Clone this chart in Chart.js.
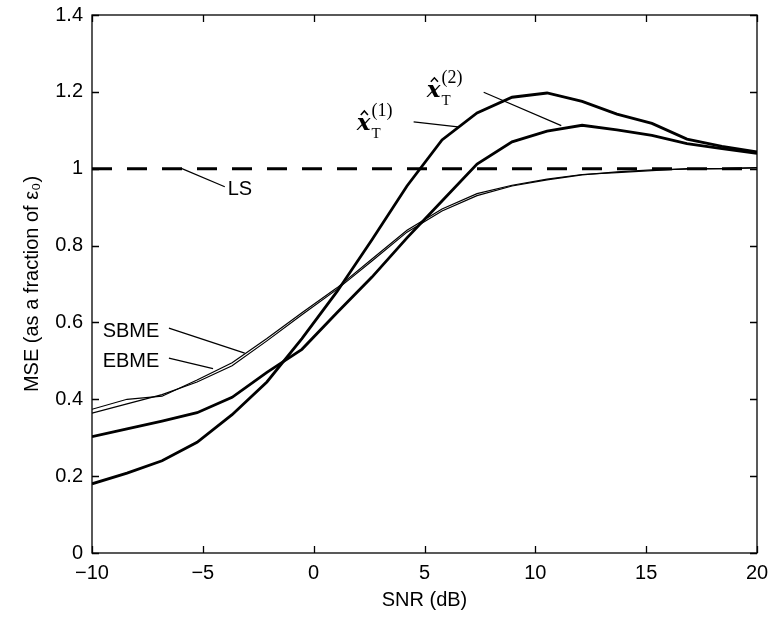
<!DOCTYPE html>
<html>
<head>
<meta charset="utf-8">
<script src="https://cdn.jsdelivr.net/npm/chart.js@4.4.1/dist/chart.umd.min.js"></script>
<style>
  html, body { margin: 0; padding: 0; background: #fff; }
  canvas { display: block; }
</style>
</head>
<body>
<canvas id="chart" width="771" height="618"></canvas>
<script>
// SNR sample points (dB)
const snr = [-10, -8.42, -6.84, -5.26, -3.68, -2.11, -0.53, 1.05, 2.63, 4.21,
  5.79, 7.37, 8.95, 10.53, 12.11, 13.68, 15.26, 16.84, 18.42, 20];

// MSE as a fraction of eps0
const xT1 = [0.18, 0.208, 0.24, 0.288, 0.36, 0.445, 0.558, 0.68, 0.815, 0.955,
  1.075, 1.145, 1.186, 1.197, 1.175, 1.142, 1.118, 1.077, 1.058, 1.044];
const xT2 = [0.303, 0.323, 0.343, 0.365, 0.405, 0.47, 0.53, 0.625, 0.718, 0.82,
  0.916, 1.012, 1.07, 1.098, 1.113, 1.101, 1.087, 1.065, 1.052, 1.04];
const sbme = [0.374, 0.4, 0.408, 0.45, 0.495, 0.558, 0.625, 0.69, 0.765, 0.84,
  0.895, 0.935, 0.957, 0.973, 0.985, 0.99, 0.995, 1.0, 1.0, 1.003];
const ebme = [0.364, 0.388, 0.412, 0.445, 0.487, 0.552, 0.62, 0.686, 0.76, 0.835,
  0.89, 0.93, 0.955, 0.971, 0.984, 0.992, 0.997, 0.999, 1.0, 1.002];
const lsX = [-10, 20];
const lsY = [1, 1];

const xTicks = [-10, -5, 0, 5, 10, 15, 20];
const yTicks = [0, 0.2, 0.4, 0.6, 0.8, 1, 1.2, 1.4];

const pts = (xs, ys) => xs.map((x, i) => ({ x, y: ys[i] }));

const line = (data, width, dash) => ({
  data,
  borderColor: '#000',
  borderWidth: width,
  borderDash: dash || [],
  pointRadius: 0,
  tension: 0,
  fill: false,
});

// inward ticks on all four sides + box
const frame = {
  id: 'frame',
  afterDatasetsDraw(chart) {
    const { ctx, chartArea: a, scales } = chart;
    const len = 7;
    ctx.save();
    ctx.strokeStyle = '#000';
    ctx.lineWidth = 1.3;
    ctx.strokeRect(a.left, a.top, a.right - a.left, a.bottom - a.top);
    ctx.beginPath();
    scales.x.ticks.forEach((t) => {
      const px = Math.round(scales.x.getPixelForValue(t.value)) + 0.5;
      ctx.moveTo(px, a.bottom); ctx.lineTo(px, a.bottom - len);
      ctx.moveTo(px, a.top); ctx.lineTo(px, a.top + len);
    });
    scales.y.ticks.forEach((t) => {
      const py = Math.round(scales.y.getPixelForValue(t.value)) + 0.5;
      ctx.moveTo(a.left, py); ctx.lineTo(a.left + len, py);
      ctx.moveTo(a.right, py); ctx.lineTo(a.right - len, py);
    });
    ctx.stroke();
    ctx.restore();
  },
};

// text labels with leader lines, placed in data units
const sansLabels = [
  { text: 'SBME', x: -9.52, y: 0.563, from: [-6.53, 0.585], to: [-3.11, 0.52] },
  { text: 'EBME', x: -9.52, y: 0.485, from: [-6.53, 0.507], to: [-4.54, 0.48] },
  { text: 'LS', x: -3.88, y: 0.932, from: [-4.01, 0.953], to: [-5.97, 1.001] },
];
const mathLabels = [
  { sup: '(1)', x: 1.94, y: 1.101, from: [4.51, 1.122], to: [6.51, 1.109] },
  { sup: '(2)', x: 5.1, y: 1.187, from: [7.67, 1.199], to: [11.17, 1.112] },
];

function drawXhat(ctx, x, y, sup) {
  ctx.font = 'bold italic 23px "DejaVu Serif"';
  ctx.textBaseline = 'alphabetic';
  ctx.fillText('x', x, y);
  const w = ctx.measureText('x').width;
  ctx.lineWidth = 1.5;
  ctx.beginPath();
  ctx.moveTo(x + w * 0.3, y - 15);
  ctx.lineTo(x + w * 0.56, y - 19);
  ctx.lineTo(x + w * 0.82, y - 15);
  ctx.stroke();
  ctx.font = '15px "Liberation Serif"';
  ctx.fillText('T', x + w + 1, y + 8);
  ctx.font = '18px "Liberation Serif"';
  ctx.fillText(sup, x + w + 1, y - 14);
}

const annotations = {
  id: 'annotations',
  afterDatasetsDraw(chart) {
    const { ctx, scales: { x: sx, y: sy } } = chart;
    const px = (v) => sx.getPixelForValue(v);
    const py = (v) => sy.getPixelForValue(v);
    ctx.save();
    ctx.fillStyle = '#000';
    ctx.strokeStyle = '#000';
    const leader = (l) => {
      ctx.lineWidth = 1.2;
      ctx.beginPath();
      ctx.moveTo(px(l.from[0]), py(l.from[1]));
      ctx.lineTo(px(l.to[0]), py(l.to[1]));
      ctx.stroke();
    };
    sansLabels.forEach((l) => {
      ctx.font = '20px "Liberation Sans", Arial, sans-serif';
      ctx.textBaseline = 'alphabetic';
      ctx.fillText(l.text, px(l.x), py(l.y));
      leader(l);
    });
    mathLabels.forEach((l) => {
      drawXhat(ctx, px(l.x), py(l.y), l.sup);
      leader(l);
    });
    ctx.restore();
  },
};

const font = { family: '"Liberation Sans", Arial, sans-serif', size: 20 };

new Chart(document.getElementById('chart'), {
  type: 'line',
  data: {
    datasets: [
      line(pts(lsX, lsY), 3, [20, 15]),
      line(pts(snr, sbme), 1.2),
      line(pts(snr, ebme), 1.2),
      line(pts(snr, xT2), 2.8),
      line(pts(snr, xT1), 2.8),
    ],
  },
  options: {
    responsive: false,
    animation: false,
    layout: { padding: { top: 15, right: 14, left: 0, bottom: 0 } },
    plugins: { legend: { display: false }, tooltip: { enabled: false } },
    scales: {
      x: {
        type: 'linear',
        min: xTicks[0],
        max: xTicks[xTicks.length - 1],
        afterBuildTicks: (s) => { s.ticks = xTicks.map((v) => ({ value: v })); },
        afterFit: (s) => { s.height = 65; s.paddingLeft = 0; s.paddingRight = 0; },
        grid: { display: false, drawTicks: false },
        border: { display: false },
        ticks: {
          color: '#000',
          font,
          padding: 8,
          maxRotation: 0,
          callback: (v) => (v < 0 ? '\u2212' + Math.abs(v) : String(v)),
        },
        title: { display: true, text: 'SNR (dB)', color: '#000', font, padding: { top: 0, bottom: 6 } },
      },
      y: {
        type: 'linear',
        min: yTicks[0],
        max: yTicks[yTicks.length - 1],
        afterBuildTicks: (s) => { s.ticks = yTicks.map((v) => ({ value: v })); },
        afterFit: (s) => { s.width = 92; s.paddingTop = 0; s.paddingBottom = 0; },
        grid: { display: false, drawTicks: false },
        border: { display: false },
        ticks: {
          color: '#000',
          font,
          padding: 9,
          callback: (v) => String(+v.toFixed(1)),
        },
        title: { display: true, text: 'MSE (as a fraction of \u03b5\u2080)', color: '#000', font, padding: { top: 20, bottom: 0 } },
      },
    },
  },
  plugins: [frame, annotations],
});
</script>
</body>
</html>
